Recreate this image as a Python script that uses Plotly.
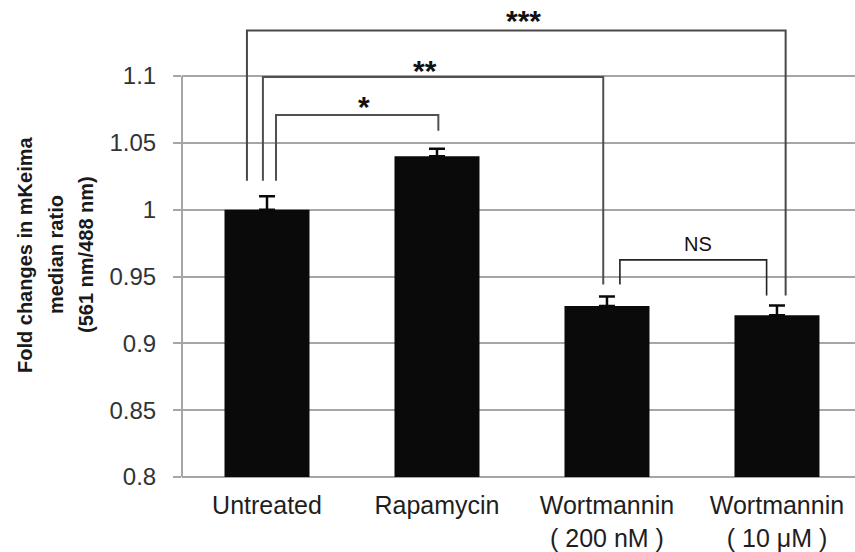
import plotly.graph_objects as go

# Treatment groups and measured fold changes
categories = ["Untreated", "Rapamycin", "Wortmannin<br>( 200 nM )", "Wortmannin<br>( 10 μM )"]
fold_change = [1.000, 1.040, 0.928, 0.921]
sem = [0.010, 0.0055, 0.007, 0.0073]
y_ticks = [0.8, 0.85, 0.9, 0.95, 1.0, 1.05, 1.1]
y_tick_text = ["0.8", "0.85", "0.9", "0.95", "1", "1.05", "1.1"]

# Significance comparisons: (left group, right group, label)
comparisons = [(0, 1, "*"), (0, 2, "**"), (0, 3, "***"), (2, 3, "NS")]

FONT = "Liberation Sans, Arial, Helvetica, sans-serif"
GRID = "#a6a6a6"
FLOOR = 0.8

fig = go.Figure()
fig.add_trace(go.Bar(
    x=list(range(len(categories))),
    y=[v - FLOOR for v in fold_change],
    base=FLOOR,
    width=0.5,
    marker=dict(color="#0a0a0a", line=dict(width=0)),
    error_y=dict(type="data", symmetric=False, array=sem,
                 arrayminus=[0] * len(sem), color="#0a0a0a",
                 thickness=2.5, width=8),
    showlegend=False,
))

# bracket geometry: leg x offsets from bar centres, top height, leg bottoms
bracket_geom = {
    "*":   dict(dx=(0.053, 0.008), top=1.0708, bottoms=(1.0217, 1.059),
                text_x=0.571, text_y=1.0770, size=30, color="#505050", w=2),
    "**":  dict(dx=(-0.024, -0.022), top=1.0993, bottoms=(1.0217, 0.944),
                text_x=0.929, text_y=1.1040, size=30, color="#505050", w=2),
    "***": dict(dx=(-0.118, 0.051), top=1.1340, bottoms=(1.0217, 0.9357),
                text_x=1.506, text_y=1.1414, size=30, color="#484848", w=2),
    "NS":  dict(dx=(0.076, -0.061), top=0.9624, bottoms=(0.944, 0.9357),
                text_x=2.535, text_y=0.9746, size=20, color="#222222", w=1.6),
}

shapes = []
annotations = []
for a, b, label in comparisons:
    g = bracket_geom[label]
    xa = a + g["dx"][0]
    xb = b + g["dx"][1]
    path = (f"M {xa},{g['bottoms'][0]} L {xa},{g['top']} "
            f"L {xb},{g['top']} L {xb},{g['bottoms'][1]}")
    shapes.append(dict(type="path", xref="x", yref="y", path=path,
                       line=dict(color=g["color"], width=g["w"]),
                       layer="above"))
    star = label.startswith("*")
    annotations.append(dict(
        x=g["text_x"], y=g["text_y"], xref="x", yref="y", text=label,
        showarrow=False, xanchor="center", yanchor="middle",
        font=dict(family=FONT, size=g["size"], color="#111111",
                  weight="bold" if star else "normal"),
    ))

# vertical axis line, spanning only the tick range
shapes.append(dict(type="line", xref="paper", yref="y", x0=0, x1=0,
                   y0=0.8, y1=1.1, line=dict(color=GRID, width=2),
                   layer="below"))
# baseline
shapes.append(dict(type="line", xref="paper", yref="paper", x0=0, x1=1,
                   y0=0, y1=0, line=dict(color=GRID, width=2),
                   layer="below"))

# three-line vertical axis title
title_lines = ["Fold changes in mKeima", "median ratio", "(561 nm/488 nm)"]
title_x = [25, 56, 86]
for line, px in zip(title_lines, title_x):
    annotations.append(dict(
        x=(px - 182) / 673, y=(477 - 255) / 477, xref="paper", yref="paper",
        text=line, textangle=-90, showarrow=False,
        xanchor="center", yanchor="middle",
        font=dict(family=FONT, size=20, color="#1a1a1a", weight="bold"),
    ))

fig.update_layout(
    width=855, height=552,
    margin=dict(l=182, r=0, t=0, b=75, autoexpand=False),
    paper_bgcolor="white", plot_bgcolor="white",
    shapes=shapes,
    annotations=annotations,
    xaxis=dict(
        range=[-0.5, 3.459],
        tickvals=list(range(len(categories))),
        ticktext=categories,
        showgrid=False, zeroline=False, showline=False,
        ticks="", ticklabelstandoff=11, automargin=False,
        tickfont=dict(family=FONT, size=25, color="#1e1e1e"),
    ),
    yaxis=dict(
        range=[0.8, 0.8 + 477 / 1336.7],
        tickvals=y_ticks, ticktext=y_tick_text,
        showgrid=True, gridcolor=GRID, gridwidth=2,
        zeroline=False, showline=False, automargin=False,
        ticks="outside", ticklen=8, tickwidth=2, tickcolor=GRID,
        ticklabelstandoff=12,
        tickfont=dict(family=FONT, size=24, color="#333333"),
    ),
)

fig.write_html("out.html")
